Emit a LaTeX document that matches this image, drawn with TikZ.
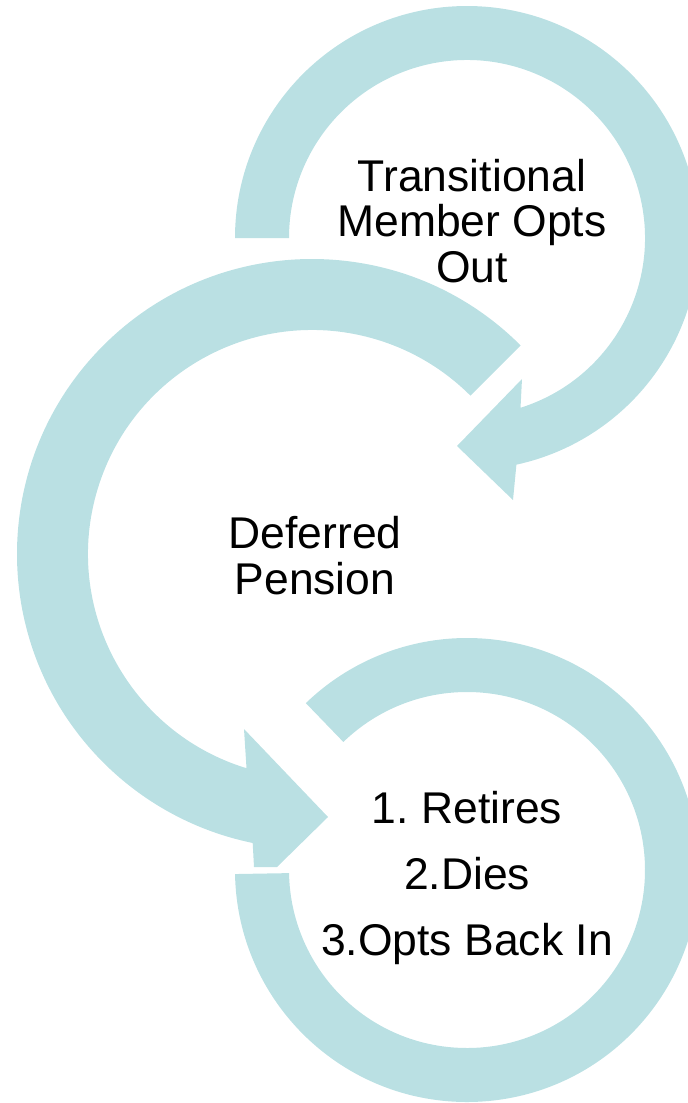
\documentclass[tikz,border=0pt]{standalone}
\usepackage{fontspec}
\setmainfont{Liberation Sans}
\usepackage{tikz}
\usetikzlibrary{calc}
\definecolor{ringblue}{RGB}{186,224,227}

\begin{document}
\begin{tikzpicture}[x=0.02cm, y=0.02cm,
	ringfill/.style={fill=ringblue},
	ringtext/.style={align=center, inner sep=0pt, text=black}]

	% ---- parameters

	\def\Rbig{295}
	\def\rbig{224}
	\def\Rsmall{232}
	\def\rsmall{178}

	% ---- frame

	\useasboundingbox (0,0) rectangle (688,-1103);
	\clip (0,0) rectangle (688,-1103);

	% ---- centres

	\coordinate (Ct) at (467,-238);
	\coordinate (Cm) at (312,-554);
	\coordinate (Cb) at (467,-870);

	% ---- arrow heads

	\coordinate (TtipA) at (457,-446);
	\coordinate (TbarbA) at (522,-379);
	\coordinate (TbarbB) at (513,-500);

	\coordinate (MtipA) at (328,-817);
	\coordinate (MbarbA) at (244,-729);
	\coordinate (McutA) at (254,-867);
	\coordinate (McutB) at (277,-867);

	% ---- top arrow

	\fill[ringfill] ($(Ct)+(180:\Rsmall)$)
		arc[start angle=180, end angle=-77.7, radius=\Rsmall]
		-- (TbarbB) -- (TtipA) -- (TbarbA) -- ($(Ct)+(-72.5:\rsmall)$)
		arc[start angle=-72.5, end angle=180, radius=\rsmall] -- cycle;

	% ---- middle arrow

	\fill[ringfill] ($(Cm)+(45:\Rbig)$)
		arc[start angle=45, end angle=258.4, radius=\Rbig]
		-- (McutA) -- (McutB) -- (MtipA) -- (MbarbA) -- ($(Cm)+(253:\rbig)$)
		arc[start angle=253, end angle=45, radius=\rbig] -- cycle;

	% ---- bottom ring

	\fill[ringfill] ($(Cb)+(181:\Rsmall)$)
		arc[start angle=181, end angle=494, radius=\Rsmall]
		-- ($(Cb)+(134:\rsmall)$)
		arc[start angle=494, end angle=181, radius=\rsmall] -- cycle;

	% ---- texts

	\node[ringtext, font=\fontsize{25.3}{25.8}\selectfont] (optout) at (472,-221)
		{Transitional\\Member Opts\\Out};
	\node[ringtext, font=\fontsize{25.3}{26.2}\selectfont] (deferred) at (315,-555.5)
		{Deferred\\Pension};
	\node[ringtext, font=\fontsize{25.3}{37.4}\selectfont\frenchspacing] (outcomes) at (467,-878)
		{1. Retires\\2.Dies\\3.Opts Back In};

\end{tikzpicture}
\end{document}
